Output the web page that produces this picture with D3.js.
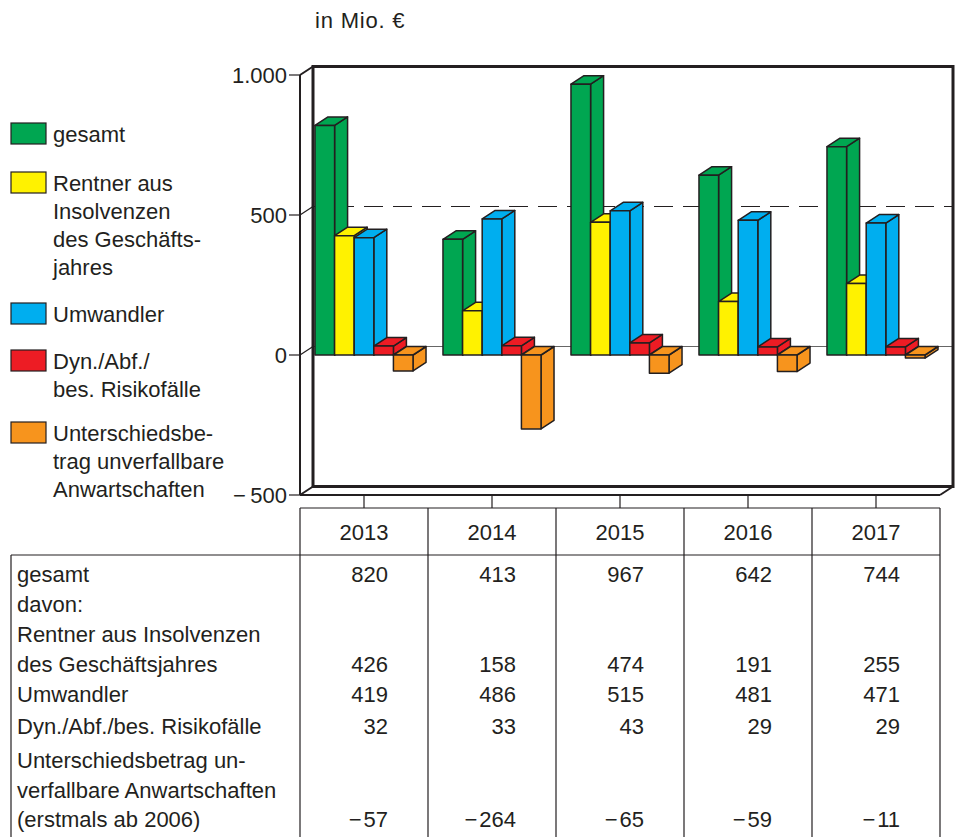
<!DOCTYPE html>
<html>
<head>
<meta charset="utf-8">
<script src="https://cdn.jsdelivr.net/npm/d3@7"></script>
<style>
  body { margin: 0; background: #fff; }
  text { font-family: 'Liberation Sans', Arial, sans-serif; font-size: 22px; fill: #231f20; }
</style>
</head>
<body>
<div id="chart"></div>
<script>
// data (in Mio. EUR)
var years = ['2013', '2014', '2015', '2016', '2017'];
var gesamt = [820, 413, 967, 642, 744];
var rentner = [426, 158, 474, 191, 255];
var umwandler = [419, 486, 515, 481, 471];
var dynAbf = [32, 33, 43, 29, 29];
var unterschied = [-57, -264, -65, -59, -11];
var yTicks = [-500, 0, 500, 1000];
var legendLabels = [
    ['gesamt'],
    ['Rentner aus', 'Insolvenzen', 'des Geschäfts-', 'jahres'],
    ['Umwandler'],
    ['Dyn./Abf./', 'bes. Risikofälle'],
    ['Unterschiedsbe-', 'trag unverfallbare', 'Anwartschaften']
];
var tableLabels = [
    ['gesamt'],
    ['davon:'],
    ['Rentner aus Insolvenzen', 'des Geschäftsjahres'],
    ['Umwandler'],
    ['Dyn./Abf./bes. Risikofälle'],
    ['Unterschiedsbetrag un-', 'verfallbare Anwartschaften', '(erstmals ab 2006)']
];
var tableValues = [gesamt, null, rentner, umwandler, dynAbf, unterschied];

var series = [gesamt, rentner, umwandler, dynAbf, unterschied];
var colors = ['#00a651', '#fff200', '#00aeef', '#ed1c24', '#f7941d'];

function Chart(){
    this.sizes = {width: 962, height: 837};
    this.depth = {dx: 13, dy: -8.5};
    this.stroke = '#231f20';
}

Chart.prototype.make_svg = function(){
    if(document.querySelector('svg')){
        d3.select('svg').remove();
    }
    this.svg = d3.select('#chart').append('svg')
        .attr('width', this.sizes.width)
        .attr('height', this.sizes.height);
};

Chart.prototype.make_scales = function(){
    this.y = d3.scaleLinear().domain([-500, 1000]).range([495, 75]);
    // table columns
    this.col = d3.scaleBand().domain(years).range([300, 940]);
    // bar groups centred in the columns
    this.gx = d3.scaleBand().domain(years).range([300, 940])
        .paddingInner(0.234).paddingOuter(0.117);
    this.sx = d3.scaleBand().domain(d3.range(series.length))
        .range([0, this.gx.bandwidth()]);
};

Chart.prototype.draw_box = function(){
    var svg = this.svg, y = this.y, d = this.depth, s = this.stroke;
    var x0 = 300, x1 = 940;
    var g = svg.append('g');

    // back wall lines
    g.append('line').attr('x1', x0 + d.dx).attr('x2', x1 + d.dx)
        .attr('y1', y(0) + d.dy).attr('y2', y(0) + d.dy)
        .attr('stroke', '#666').attr('stroke-width', 1);
    g.append('line').attr('x1', x0 + d.dx).attr('x2', x1 + d.dx)
        .attr('y1', y(500) + d.dy).attr('y2', y(500) + d.dy)
        .attr('stroke', s).attr('stroke-width', 1.2)
        .attr('stroke-dasharray', '19,10').attr('stroke-dashoffset', -22);
    g.append('rect')
        .attr('x', x0 + d.dx).attr('y', y(1000) + d.dy)
        .attr('width', x1 - x0).attr('height', y(-500) - y(1000))
        .attr('fill', 'none').attr('stroke', s).attr('stroke-width', 3);

    // front frame
    var front = [
        [x0, y(1000), x0, y(-500)],
        [x0, y(-500), x1, y(-500)],
        [x0, y(1000), x0 + d.dx, y(1000) + d.dy],
        [x0, y(-500), x0 + d.dx, y(-500) + d.dy],
        [x1, y(-500), x1 + d.dx, y(-500) + d.dy]
    ];
    g.selectAll('.front').data(front).enter().append('line')
        .attr('class', 'front')
        .attr('x1', function(l){ return l[0]; })
        .attr('y1', function(l){ return l[1]; })
        .attr('x2', function(l){ return l[2]; })
        .attr('y2', function(l){ return l[3]; })
        .attr('stroke', s).attr('stroke-width', 2);

    // y ticks + diagonals to the back wall
    var fmt = d3.formatLocale({decimal: ',', thousands: '.', grouping: [3],
        currency: ['', '€'], minus: '\u2212\u2009'}).format(',');
    var ticks = g.selectAll('.tick').data(yTicks).enter().append('g').attr('class', 'tick');
    ticks.append('line').attr('x1', x0 - 11).attr('x2', x0)
        .attr('y1', function(v){ return y(v); }).attr('y2', function(v){ return y(v); })
        .attr('stroke', s).attr('stroke-width', 1.2);
    ticks.filter(function(v){ return v === 0 || v === 500; }).append('line')
        .attr('x1', x0).attr('x2', x0 + d.dx)
        .attr('y1', function(v){ return y(v); }).attr('y2', function(v){ return y(v) + d.dy; })
        .attr('stroke', s).attr('stroke-width', 1.2);
    ticks.append('text')
        .attr('x', 287).attr('y', function(v){ return y(v) + 8; })
        .attr('text-anchor', 'end')
        .text(function(v){ return fmt(v); });

    svg.append('text').attr('x', 315).attr('y', 28)
        .attr('letter-spacing', 0.8).text('in Mio. €');
};

Chart.prototype.draw_bars = function(){
    var self = this, y = this.y, d = this.depth;
    var w = this.sx.bandwidth();
    var bars = [];
    years.forEach(function(yr, i){
        series.forEach(function(vals, j){
            bars.push({x: self.gx(yr) + self.sx(j), v: vals[i], c: colors[j]});
        });
    });
    var g = this.svg.append('g');
    var bar = g.selectAll('.bar').data(bars).enter().append('g').attr('class', 'bar')
        .attr('fill', function(b){ return b.c; })
        .attr('stroke', this.stroke).attr('stroke-width', 1.5)
        .attr('stroke-linejoin', 'round');

    function top(b){ return y(Math.max(b.v, 0)); }
    function bot(b){ return y(Math.min(b.v, 0)); }

    // side face
    bar.append('polygon').attr('points', function(b){
        return [[b.x + w, top(b)], [b.x + w + d.dx, top(b) + d.dy],
                [b.x + w + d.dx, bot(b) + d.dy], [b.x + w, bot(b)]].join(' ');
    });
    // top face
    bar.append('polygon').attr('points', function(b){
        return [[b.x, top(b)], [b.x + d.dx, top(b) + d.dy],
                [b.x + w + d.dx, top(b) + d.dy], [b.x + w, top(b)]].join(' ');
    });
    // front face
    bar.append('rect')
        .attr('x', function(b){ return b.x; })
        .attr('y', top)
        .attr('width', w)
        .attr('height', function(b){ return bot(b) - top(b); });
};

Chart.prototype.draw_legend = function(){
    var tops = [123, 172, 303, 350, 422];
    var g = this.svg.append('g');
    var item = g.selectAll('.leg').data(legendLabels).enter().append('g')
        .attr('transform', function(l, i){ return 'translate(0,' + tops[i] + ')'; });
    item.append('rect').attr('x', 11).attr('y', 0).attr('width', 35).attr('height', 21)
        .attr('fill', function(l, i){ return colors[i]; })
        .attr('stroke', this.stroke).attr('stroke-width', 1.2);
    item.selectAll('text').data(function(l){ return l; }).enter().append('text')
        .attr('x', 53).attr('y', function(t, k){ return 19 + k * 28; })
        .text(function(t){ return t; });
};

Chart.prototype.draw_table = function(){
    var svg = this.svg, col = this.col, s = this.stroke;
    var g = svg.append('g');
    var bottom = 845;
    var fmt = d3.formatLocale({decimal: ',', thousands: '.', grouping: [3],
        currency: ['', '€'], minus: '\u2212\u200A'}).format('d');

    // tick connectors
    g.selectAll('.conn').data(years).enter().append('line')
        .attr('x1', function(yr){ return col(yr) + col.bandwidth() / 2; })
        .attr('x2', function(yr){ return col(yr) + col.bandwidth() / 2; })
        .attr('y1', 495).attr('y2', 508)
        .attr('stroke', s).attr('stroke-width', 1.2);

    // grid
    var edges = years.map(function(yr){ return col(yr); }).concat([940]);
    g.selectAll('.vl').data(edges).enter().append('line')
        .attr('x1', function(x){ return x; }).attr('x2', function(x){ return x; })
        .attr('y1', 508).attr('y2', bottom)
        .attr('stroke', s).attr('stroke-width', 1.2);
    g.append('line').attr('x1', 300).attr('x2', 940).attr('y1', 508).attr('y2', 508)
        .attr('stroke', s).attr('stroke-width', 1.2);
    g.append('line').attr('x1', 11).attr('x2', 940).attr('y1', 555).attr('y2', 555)
        .attr('stroke', s).attr('stroke-width', 1.2);
    g.append('line').attr('x1', 11).attr('x2', 11).attr('y1', 555).attr('y2', bottom)
        .attr('stroke', s).attr('stroke-width', 1.2);

    // header
    g.selectAll('.yr').data(years).enter().append('text')
        .attr('x', function(yr){ return col(yr) + col.bandwidth() / 2; })
        .attr('y', 540).attr('text-anchor', 'middle')
        .text(function(yr){ return yr; });

    // rows
    var baselines = [582, 612, 642, 702, 734, 768];
    var lh = 29.5;
    tableLabels.forEach(function(lines, r){
        lines.forEach(function(t, k){
            g.append('text').attr('x', 17).attr('y', baselines[r] + k * lh).text(t);
        });
        var last = baselines[r] + (lines.length - 1) * lh;
        if(tableValues[r]){
            g.selectAll('.v' + r).data(tableValues[r]).enter().append('text')
                .attr('x', function(v, i){ return col(years[i]) + 88; })
                .attr('y', last).attr('text-anchor', 'end')
                .text(function(v){ return fmt(v); });
        }
    });
};

Chart.prototype.runit = function(){
    this.make_svg();
    this.make_scales();
    this.draw_box();
    this.draw_bars();
    this.draw_legend();
    this.draw_table();
};

// MAIN()
var chart = new Chart();
chart.runit();
</script>
</body>
</html>
